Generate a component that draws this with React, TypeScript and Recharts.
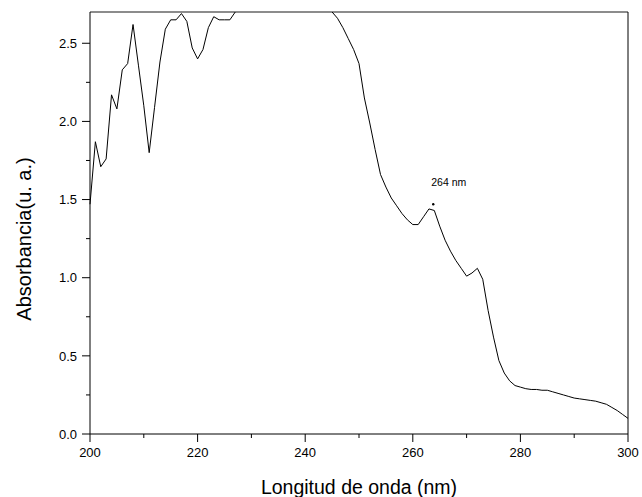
import React from 'react';
import { LineChart, Line, XAxis, YAxis, ReferenceLine, ReferenceDot } from 'recharts';

const wavelengths = [
  200, 201, 202, 203, 204, 205, 206, 207, 208, 209,
  210, 211, 212, 213, 214, 215, 216, 217, 218, 219,
  220, 221, 222, 223, 224, 225, 226, 227, 228, 229,
  230, 231, 232, 233, 234, 235, 236, 237, 238, 239,
  240, 241, 242, 243, 244, 245, 246, 247, 248, 249,
  250, 251, 252, 253, 254, 255, 256, 257, 258, 259,
  260, 261, 262, 263, 264, 265, 266, 267, 268, 269,
  270, 271, 272, 273, 274, 275, 276, 277, 278, 279,
  280, 281, 282, 283, 284, 285, 286, 287, 288, 289,
  290, 291, 292, 293, 294, 295, 296, 297, 298, 299,
  300,
];

// absorbance above 2.7 is saturated and gets clipped at the top of the frame
const absorbance = [
  1.47, 1.87, 1.71, 1.76, 2.17, 2.08, 2.33, 2.37, 2.62, 2.36,
  2.10, 1.80, 2.09, 2.38, 2.59, 2.65, 2.65, 2.69, 2.64, 2.47,
  2.40, 2.46, 2.60, 2.67, 2.65, 2.65, 2.65, 2.70, 2.80, 2.88,
  2.92, 2.95, 2.97, 2.98, 2.99, 3.00, 3.00, 2.99, 2.98, 2.96,
  2.94, 2.91, 2.87, 2.82, 2.75, 2.70, 2.66, 2.60, 2.53, 2.46,
  2.37, 2.15, 1.99, 1.82, 1.66, 1.58, 1.51, 1.46, 1.41, 1.37,
  1.34, 1.34, 1.39, 1.44, 1.43, 1.33, 1.24, 1.17, 1.11, 1.06,
  1.01, 1.03, 1.06, 0.99, 0.79, 0.62, 0.47, 0.39, 0.34, 0.31,
  0.30, 0.29, 0.285, 0.285, 0.28, 0.28, 0.27, 0.26, 0.25, 0.24,
  0.23, 0.225, 0.22, 0.215, 0.21, 0.20, 0.19, 0.17, 0.15, 0.125,
  0.10,
];

const xTicks = [200, 210, 220, 230, 240, 250, 260, 270, 280, 290, 300];
const yTicks = [0, 0.25, 0.5, 0.75, 1, 1.25, 1.5, 1.75, 2, 2.25, 2.5];

const peak = { nm: 263.8, value: 1.47, label: '264 nm' };

const data = wavelengths.map((nm, i) => ({ nm, abs: absorbance[i] }));

const font = '"Liberation Sans", Arial, sans-serif';

function XTick(props: any) {
  const { x, y, payload } = props;
  const major = payload.value % 20 === 0;
  return (
    <g>
      <line x1={x} x2={x} y1={y} y2={y + (major ? 8 : 4)} stroke="#000" />
      {major && (
        <text x={x} y={y + 23} textAnchor="middle" fontSize={13} fontFamily={font} fill="#000">
          {payload.value}
        </text>
      )}
    </g>
  );
}

function YTick(props: any) {
  const { x, y, payload } = props;
  const major = Math.abs((payload.value * 2) % 1) < 1e-9;
  return (
    <g>
      <line x1={x} x2={x - (major ? 8 : 4)} y1={y} y2={y} stroke="#000" />
      {major && (
        <text x={x - 13} y={y + 4.7} textAnchor="end" fontSize={13} fontFamily={font} fill="#000">
          {payload.value.toFixed(1)}
        </text>
      )}
    </g>
  );
}

function YTitle(props: any) {
  const { viewBox } = props;
  const cx = viewBox.x + 31;
  const cy = viewBox.y + viewBox.height / 2 + 16;
  return (
    <text x={cx} y={cy} transform={`rotate(-90, ${cx}, ${cy})`} textAnchor="middle" fontSize={20} fontFamily={font} fill="#000">
      Absorbancia(u. a.)
    </text>
  );
}

function PeakMark(props: any) {
  const { cx, cy } = props;
  return (
    <g>
      <circle cx={cx} cy={cy} r={1.2} fill="#000" />
      <text x={cx - 2} y={cy - 18} fontSize={10.5} fontFamily={font} fill="#000">
        {peak.label}
      </text>
    </g>
  );
}

export default function App() {
  return (
    <div style={{ position: 'absolute', left: 0, top: 0 }}>
      <LineChart width={642} height={497} data={data} margin={{ top: 12, right: 14, left: 0, bottom: 0 }}>
        <XAxis
          dataKey="nm"
          type="number"
          domain={[200, 300]}
          ticks={xTicks}
          interval={0}
          height={63}
          tickSize={0}
          tickMargin={0}
          tickLine={false}
          tick={<XTick />}
          axisLine={{ stroke: '#000' }}
          label={{ value: 'Longitud de onda (nm)', position: 'insideBottom', offset: 3, fontSize: 19.5, fontFamily: font, fill: '#000' }}
        />
        <YAxis
          type="number"
          domain={[0, 2.7]}
          allowDataOverflow
          ticks={yTicks}
          interval={0}
          width={90}
          tickSize={0}
          tickMargin={0}
          tickLine={false}
          tick={<YTick />}
          axisLine={{ stroke: '#000' }}
          label={<YTitle />}
        />
        <ReferenceLine y={2.7} stroke="#666" strokeWidth={1.5} />
        <ReferenceLine x={300} stroke="#000" />
        <Line type="linear" dataKey="abs" stroke="#000" strokeWidth={1} dot={false} isAnimationActive={false} />
        <ReferenceDot x={peak.nm} y={peak.value} r={1} shape={<PeakMark />} />
      </LineChart>
    </div>
  );
}
